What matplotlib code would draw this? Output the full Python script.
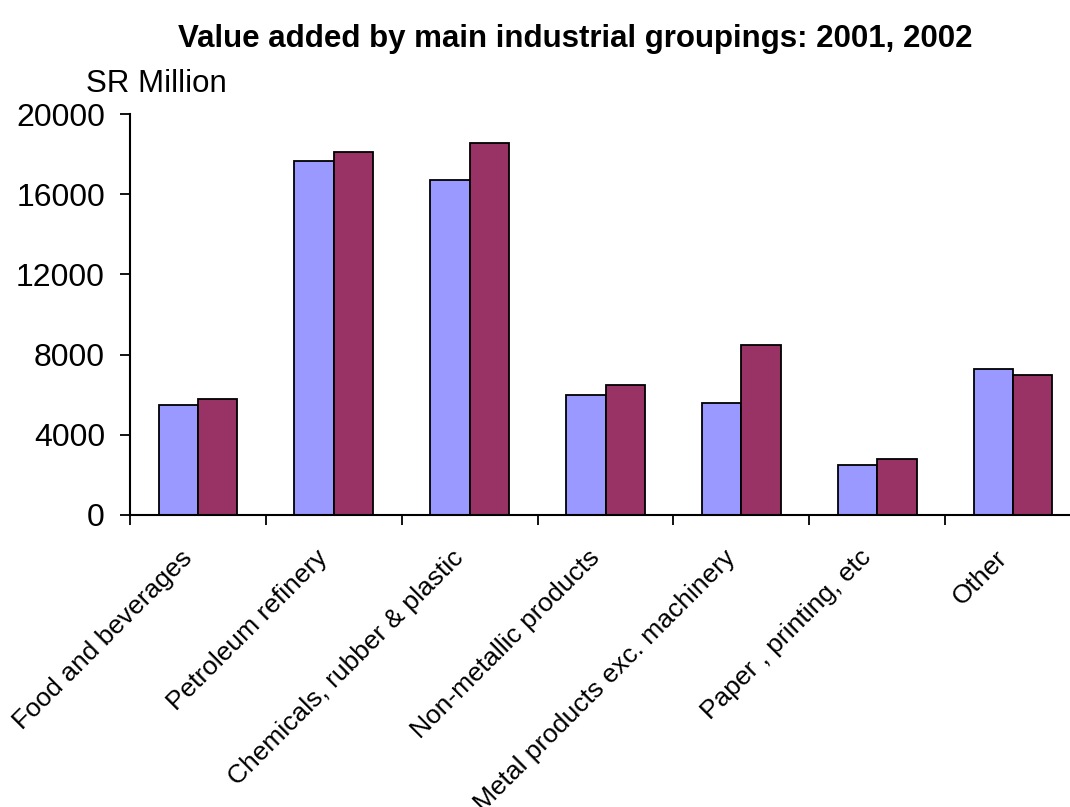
import numpy as np
import matplotlib
matplotlib.use("Agg")
import matplotlib.pyplot as plt
from matplotlib.transforms import ScaledTranslation

plt.rcParams['font.family'] = ['Liberation Sans', 'DejaVu Sans']

categories = ['Food and beverages', 'Petroleum refinery', 'Chemicals, rubber & plastic',
              'Non-metallic products', 'Metal products exc. machinery',
              'Paper , printing, etc', 'Other']
values_2001 = [5500, 17650, 16720, 5980, 5580, 2480, 7270]
values_2002 = [5780, 18120, 18540, 6470, 8470, 2780, 6970]
yticks = [0, 4000, 8000, 12000, 16000, 20000]

fig = plt.figure(figsize=(10.7, 8.07), dpi=100)
ax = fig.add_axes([130 / 1070, 1 - 515 / 807, (1081 - 130) / 1070, (515 - 114) / 807])

x = np.arange(len(categories))
w = 0.29
ax.bar(x - w / 2, values_2001, w, color='#9999FF', edgecolor='black', linewidth=1.3, label='2001')
ax.bar(x + w / 2, values_2002, w, color='#993366', edgecolor='black', linewidth=1.3, label='2002')

ax.set_xlim(-0.5, len(categories) - 0.5)
ax.set_ylim(0, 20000)
ax.set_yticks(yticks)
ax.set_yticklabels([str(t) for t in yticks], fontsize=23)

# ticks between groups, labels at group centres
ax.set_xticks(np.arange(len(categories) + 1) - 0.5)
ax.set_xticklabels([])
ax.set_xticks(x, minor=True)
ax.set_xticklabels(categories, minor=True, rotation=45, ha='right',
                   rotation_mode='anchor', fontsize=19)
ax.tick_params(axis='x', which='minor', length=0, pad=22)
ax.tick_params(axis='x', which='major', length=7, width=1.3, direction='out')
ax.tick_params(axis='y', length=7, width=1.3, direction='out', pad=11)

# shift the slanted labels a bit to the left
shift = ScaledTranslation(-18 / 100, 0, fig.dpi_scale_trans)
for lbl in ax.get_xticklabels(minor=True):
    lbl.set_transform(lbl.get_transform() + shift)

for side in ['top', 'right']:
    ax.spines[side].set_visible(False)
for side in ['left', 'bottom']:
    ax.spines[side].set_linewidth(1.5)

fig.text(575 / 1070, 1 - 39 / 807, 'Value added by main industrial groupings: 2001, 2002',
         ha='center', va='center', fontsize=22.5, fontweight='bold')
fig.text(86 / 1070, 1 - 84 / 807, 'SR Million', ha='left', va='center', fontsize=22.5)

fig.savefig('out.png', dpi=100)
